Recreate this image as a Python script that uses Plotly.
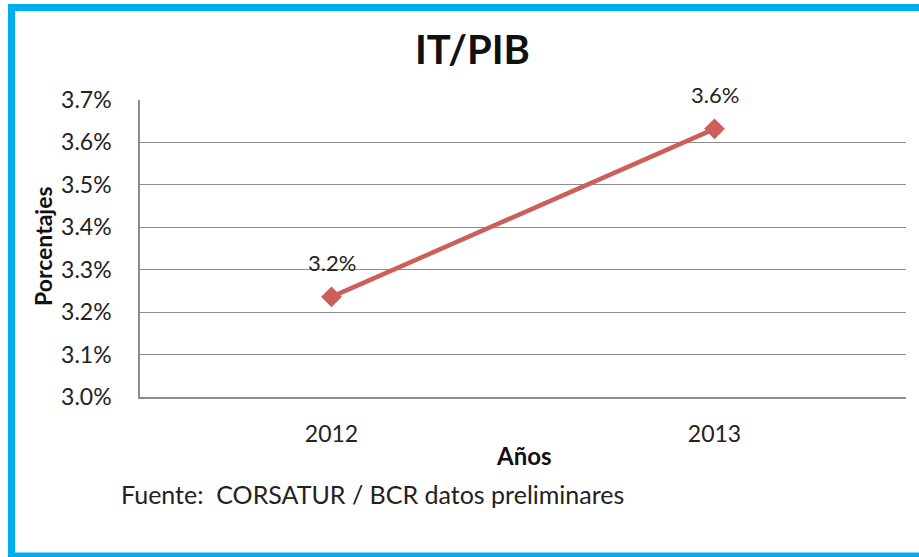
import plotly.graph_objects as go

years = ["2012", "2013"]
it_pib = [3.236, 3.632]
labels = ["3.2%", "3.6%"]
y_ticks = [3.0, 3.1, 3.2, 3.3, 3.4, 3.5, 3.6, 3.7]
y_tick_text = ["3.0%", "3.1%", "3.2%", "3.3%", "3.4%", "3.5%", "3.6%", "3.7%"]

FONT = "Lato"
TXT = "#222222"
LINE = "#CD5F5A"
FRAME = "#00AEEF"

fig = go.Figure()
fig.add_trace(go.Scatter(
    x=years, y=it_pib, mode="lines+markers",
    line=dict(color=LINE, width=4.5),
    marker=dict(symbol="diamond", size=16, color=LINE),
    cliponaxis=False, showlegend=False,
))

W, H = 919, 557
L, R, T, B = 140, 13, 100, 160
pw, ph = W - L - R, H - T - B

def px(x):
    return (x - L) / pw

def py(y):
    return (H - B - y) / ph

annotations = [
    dict(text=t, x=i, y=yv, xref="x", yref="y", showarrow=False, yshift=34,
         font=dict(family=FONT, size=22, color=TXT), xanchor="center", yanchor="middle")
    for i, (yv, t) in enumerate(zip(it_pib, labels))
]
annotations += [
    dict(text="<b>IT/PIB</b>", x=px(472), y=py(49), xref="paper", yref="paper",
         showarrow=False, font=dict(family=FONT, size=40, color="#111111"),
         xanchor="center", yanchor="middle"),
    dict(text="<b>Porcentajes</b>", x=px(43), y=py(246), xref="paper", yref="paper",
         showarrow=False, textangle=-90, font=dict(family=FONT, size=23, color="#111111"),
         xanchor="center", yanchor="middle"),
    dict(text="<b>Años</b>", x=px(524), y=py(455), xref="paper", yref="paper",
         showarrow=False, font=dict(family=FONT, size=24, color="#111111"),
         xanchor="center", yanchor="middle"),
    dict(text="Fuente:  CORSATUR / BCR datos preliminares", x=px(119), y=py(494),
         xref="paper", yref="paper", showarrow=False,
         font=dict(family=FONT, size=25, color=TXT),
         xanchor="left", yanchor="middle"),
]

frame = dict(color=FRAME, width=7)
shapes = [
    dict(type="line", xref="paper", yref="paper", x0=px(11.5), x1=px(11.5),
         y0=py(557), y1=py(4), line=frame, layer="above"),
    dict(type="line", xref="paper", yref="paper", x0=px(8), x1=px(919),
         y0=py(7.5), y1=py(7.5), line=frame, layer="above"),
    dict(type="line", xref="paper", yref="paper", x0=px(8), x1=px(919),
         y0=py(556), y1=py(556), line=frame, layer="above"),
]

fig.update_layout(
    width=W, height=H,
    margin=dict(l=L, r=R, t=T, b=B),
    paper_bgcolor="white", plot_bgcolor="white",
    font=dict(family=FONT, color=TXT),
    xaxis=dict(
        type="category", range=[-0.5, 1.5],
        showgrid=False, showline=True, linecolor="#8c8c8c", linewidth=1.5,
        tickfont=dict(family=FONT, size=23, color=TXT),
        ticks="", ticklabelstandoff=16,
    ),
    yaxis=dict(
        range=[3.0, 3.7], tickvals=y_ticks, ticktext=y_tick_text,
        showgrid=True, gridcolor="#8c8c8c", gridwidth=1.2,
        showline=True, linecolor="#8c8c8c", linewidth=1.5,
        zeroline=False,
        tickfont=dict(family=FONT, size=23, color=TXT),
        ticks="", ticklabelstandoff=22,
    ),
    annotations=annotations,
    shapes=shapes,
)

fig.write_html("out.html", config={"displayModeBar": False})

with open("out.html", "r", encoding="utf-8") as f:
    html = f.read()
html = html.replace("<head>", "<head><style>html,body{margin:0;padding:0;overflow:hidden;}</style>", 1)
with open("out.html", "w", encoding="utf-8") as f:
    f.write(html)
